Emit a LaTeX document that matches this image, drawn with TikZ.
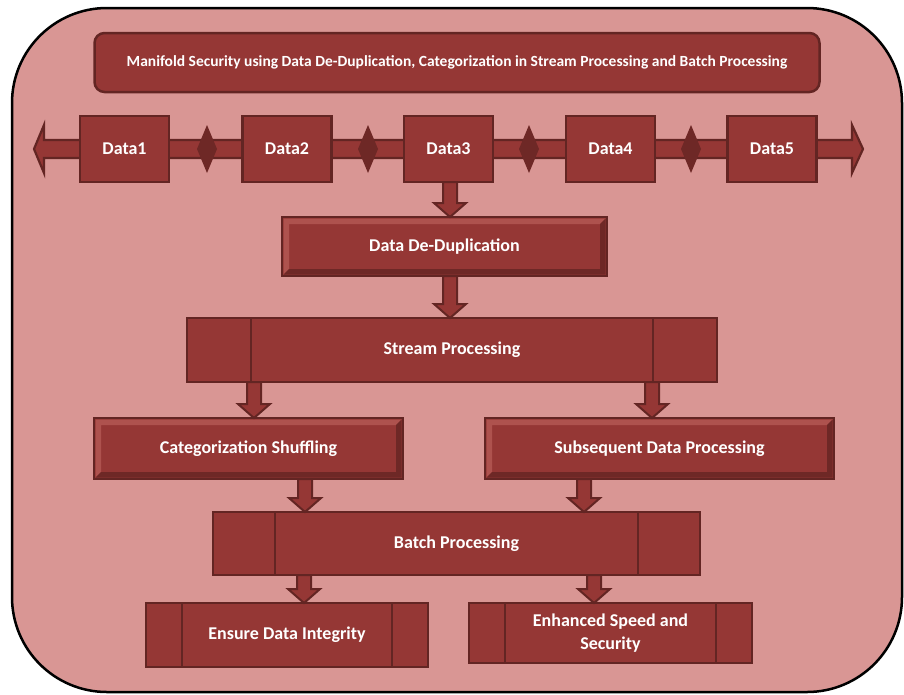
\documentclass[tikz,border=0pt]{standalone}
\usepackage{fontspec}
\setmainfont{Carlito}
\usetikzlibrary{calc}
\definecolor{outerfill}{HTML}{D99694}
\definecolor{boxfill}{HTML}{953735}
\definecolor{boxline}{HTML}{632523}
\definecolor{bevlight}{HTML}{AE524E}
\definecolor{bevdark}{HTML}{6E2826}
\newcommand\barrow[3]{%
  \path[barrowst] let \p1=(#1.south), \p2=(#2.north) in
    (#3pt-7pt,\y1) -- (#3pt+7pt,\y1) -- (#3pt+7pt,\y2+14pt) -- (#3pt+16pt,\y2+14pt)
    -- (#3pt,\y2) -- (#3pt-16pt,\y2+14pt) -- (#3pt-7pt,\y2+14pt) -- cycle;}
\newcommand\bevel[1]{%
  \fill[bevlight] let \p1=(#1.north west), \p2=(#1.south east) in
    (\x1+1.5pt,\y1-1.5pt) -- (\x2-1.5pt,\y1-1.5pt) -- (\x2-7pt,\y1-7pt) -- (\x1+7pt,\y1-7pt) -- cycle
    (\x1+1.5pt,\y1-1.5pt) -- (\x1+7pt,\y1-7pt) -- (\x1+7pt,\y2+7pt) -- (\x1+1.5pt,\y2+1.5pt) -- cycle;
  \fill[bevdark] let \p1=(#1.north west), \p2=(#1.south east) in
    (\x2-1.5pt,\y1-1.5pt) -- (\x2-1.5pt,\y2+1.5pt) -- (\x2-7pt,\y2+7pt) -- (\x2-7pt,\y1-7pt) -- cycle
    (\x1+1.5pt,\y2+1.5pt) -- (\x2-1.5pt,\y2+1.5pt) -- (\x2-7pt,\y2+7pt) -- (\x1+7pt,\y2+7pt) -- cycle;}
\newcommand\seglines[2]{%
  \draw[segline] ($(#1.north west)+(#2,0)$) -- ($(#1.south west)+(#2,0)$);
  \draw[segline] ($(#1.north east)+(-#2,0)$) -- ($(#1.south east)+(-#2,0)$);}
\begin{document}
\begin{tikzpicture}[x=1pt,y=-1pt,
  box/.style={draw=boxline, fill=boxfill, line width=2.5pt, outer sep=0pt, inner sep=0pt,
    text=white, font=\bfseries\fontsize{18}{23}\selectfont, align=center},
  band/.style={draw=boxline, fill=boxfill, line width=2.2pt, line join=miter},
  diam/.style={fill=bevdark},
  barrowst/.style={draw=boxline, fill=boxfill, line width=2pt, line join=miter},
  segline/.style={draw=boxline, line width=2.5pt}]
\useasboundingbox (0,0) rectangle (904,694);
\path[draw=black, line width=2.5pt, fill=outerfill, rounded corners=95pt] (12,8) rectangle (902,692);

\node[box, rounded corners=10pt, minimum width=725pt, minimum height=59pt,
  font=\bfseries\fontsize{15.5}{18}\selectfont] (title) at (457,62.5)
  {Manifold Security using Data De-Duplication, Categorization in Stream Processing and Batch Processing};

% band of data blocks
\coordinate (lt) at (34,149);
\coordinate (rt) at (863,149);
\draw[band] (lt) -- ++(10,-24) -- ++(0,15) -- ($(rt)+(-11,-9)$) -- ++(0,-15) -- (rt)
  -- ++(-11,24) -- ++(0,-15) -- ($(lt)+(10,9)$) -- ++(0,15) -- cycle;
\foreach \cx in {207,368,529,691}{
  \fill[diam] (\cx-10,149) -- (\cx,125) -- (\cx+10,149) -- (\cx,173) -- cycle;
}
\node[box, minimum width=89pt, minimum height=66pt] (d1) at (124.5,149) {Data1};
\node[box, minimum width=89pt, minimum height=66pt] (d2) at (287,149) {Data2};
\node[box, minimum width=89pt, minimum height=66pt] (d3) at (448.5,149) {Data3};
\node[box, minimum width=89pt, minimum height=66pt] (d4) at (610.5,149) {Data4};
\node[box, minimum width=89pt, minimum height=66pt] (d5) at (772,149) {Data5};

% main boxes
\node[box, minimum width=325pt, minimum height=59pt] (ddd) at (444.5,246.5) {Data De-Duplication};
\bevel{ddd}
\node[box, minimum width=530pt, minimum height=64pt] (stream) at (452,350) {Stream Processing};
\seglines{stream}{64}
\node[box, minimum width=309pt, minimum height=61pt] (cat) at (248.5,448.5) {Categorization Shuffling};
\bevel{cat}
\node[box, minimum width=349pt, minimum height=61pt] (sub) at (659.5,448.5) {Subsequent Data Processing};
\bevel{sub}
\node[box, minimum width=487pt, minimum height=63pt] (batch) at (456.5,543.5) {Batch Processing};
\seglines{batch}{62}
\node[box, minimum width=282pt, minimum height=64pt] (ens) at (287,635) {Ensure Data Integrity};
\seglines{ens}{36}
\node[box, minimum width=283pt, minimum height=60pt, yshift=0pt] (enh) at (610.5,633) {Enhanced Speed and\\Security};
\seglines{enh}{36}

% block arrows
\barrow{d3}{ddd}{450}
\barrow{ddd}{stream}{450}
\barrow{stream}{cat}{254}
\barrow{stream}{sub}{652}
\barrow{cat}{batch}{305}
\barrow{sub}{batch}{584}
\barrow{batch}{ens}{304}
\barrow{batch}{enh}{594}
\end{tikzpicture}
\end{document}
